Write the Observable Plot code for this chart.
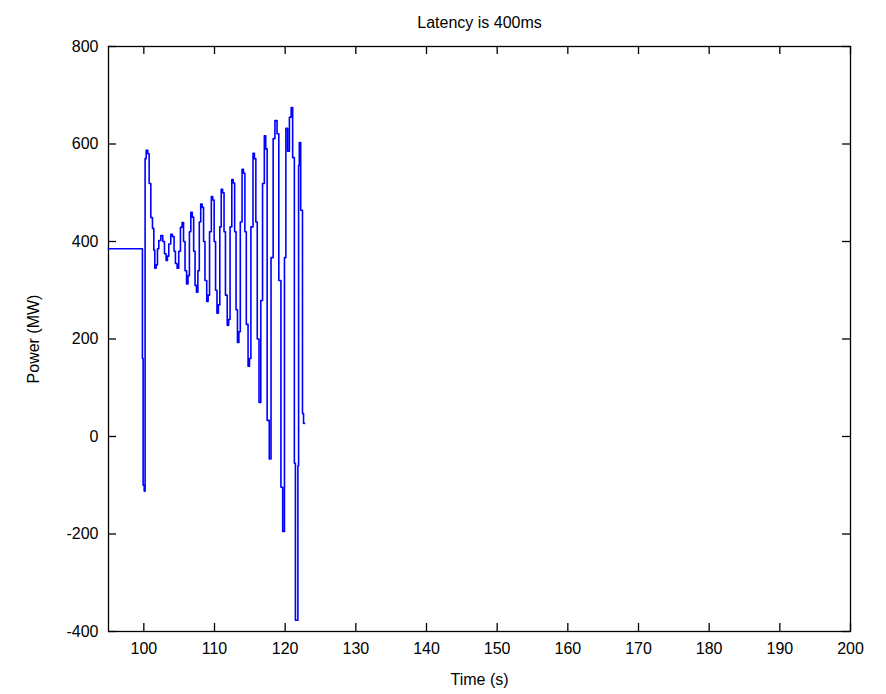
<!DOCTYPE html>
<html>
<head>
<meta charset="utf-8">
<script src="https://cdn.jsdelivr.net/npm/d3@7"></script>
<script src="https://cdn.jsdelivr.net/npm/@observablehq/plot@0.6"></script>
<style>
  html, body { margin: 0; padding: 0; background: #fff; }
  #chart svg { display: block; }
</style>
</head>
<body>
<div id="chart"></div>
<script>
// Time (s) of each held sample
const time = [
  95, 99.8, 99.9, 100.05, 100.18, 100.33, 100.56, 100.75, 100.99, 101.22, 101.41, 101.55,
  101.74, 101.93, 102.12, 102.4, 102.68, 102.92, 103.15, 103.34, 103.53, 103.81, 104.05,
  104.28, 104.47, 104.71, 104.94, 105.18, 105.41, 105.62, 105.83, 106.05, 106.25, 106.45,
  106.65, 106.85, 107.05, 107.25, 107.45, 107.65, 107.85, 108.05, 108.25, 108.45, 108.65,
  108.9, 109.1, 109.3, 109.55, 109.75, 109.95, 110.15, 110.35, 110.55, 110.75, 110.95,
  111.15, 111.35, 111.55, 111.8, 112.0, 112.2, 112.45, 112.65, 112.85, 113.05, 113.25,
  113.45, 113.65, 113.9, 114.1, 114.3, 114.5, 114.75, 114.95, 115.15, 115.45, 115.65,
  115.85, 116.05, 116.3, 116.55, 116.8, 117.05, 117.25, 117.45, 117.75, 118.0, 118.3,
  118.55, 118.85, 119.1, 119.4, 119.65, 119.9, 120.1, 120.35, 120.6, 120.85, 121.06,
  121.3, 121.45, 121.8, 121.9, 122.0, 122.2, 122.45, 122.6, 122.75
];
// Power (MW) held from each sample time
const power = [
  385, 160, -100, -112, 570, 587, 580, 519, 449, 427, 382, 345,
  352, 385, 402, 412, 400, 375, 361, 370, 395, 415, 410,
  380, 355, 345, 380, 429, 439, 400, 340, 313, 330, 420,
  460, 450, 380, 310, 296, 340, 440, 477, 470, 400, 320,
  277, 290, 420, 492, 485, 400, 300, 253, 270, 430, 507,
  500, 420, 290, 228, 240, 430, 527, 520, 420, 260, 193,
  215, 440, 548, 540, 420, 230, 144, 160, 430, 581, 570,
  440, 200, 70, 279, 519, 617, 590, 33, -46, 367, 611,
  648, 621, 320, -104, -195, 367, 632, 585, 655, 675, 572,
  -55, -377, -60, 556, 603, 464, 47, 27, 27
];
const xTicks = [100, 110, 120, 130, 140, 150, 160, 170, 180, 190, 200];
const yTicks = [-400, -200, 0, 200, 400, 600, 800];
const titleText = "Latency is 400ms";
const xLabel = "Time (s)";
const yLabel = "Power (MW)";

const data = time.map((t, i) => ({t, p: power[i]}));
const font = "Liberation Sans, Arial, Helvetica, sans-serif";

const W = 886, H = 694, mL = 108, mR = 36, mT = 46, mB = 63, tick = 8;
const frameW = W - mL - mR, frameH = H - mT - mB;
const tickStyle = {stroke: "#000", strokeWidth: 1.3};

const chart = Plot.plot({
  width: W,
  height: H,
  marginLeft: mL,
  marginRight: mR,
  marginTop: mT,
  marginBottom: mB,
  style: {fontFamily: font, fontSize: "16px", color: "#000", background: "#fff"},
  x: {domain: [95, 200]},
  y: {domain: [-400, 800]},
  marks: [
    // inward ticks on all four sides
    Plot.ruleX(xTicks, {insetTop: frameH - tick, ...tickStyle}),
    Plot.ruleX(xTicks, {insetBottom: frameH - tick, ...tickStyle}),
    Plot.ruleY(yTicks, {insetRight: frameW - tick, ...tickStyle}),
    Plot.ruleY(yTicks, {insetLeft: frameW - tick, ...tickStyle}),
    Plot.frame({stroke: "#000", strokeWidth: 1.3}),
    Plot.axisX(xTicks, {anchor: "bottom", tickSize: 0, tickPadding: 11, tickFormat: d => String(d),
      label: xLabel, labelAnchor: "center", labelArrow: "none", labelOffset: 53, fontSize: 16}),
    Plot.axisY(yTicks, {anchor: "left", tickSize: 0, tickPadding: 10, tickFormat: d => String(d),
      label: yLabel, labelAnchor: "center", labelArrow: "none", labelOffset: 81, fontSize: 16}),
    Plot.line(data, {x: "t", y: "p", curve: "step-after", stroke: "#0000ff", strokeWidth: 1.6}),
    Plot.text([titleText], {frameAnchor: "top", dy: -30, fontSize: 16, fill: "#000"})
  ]
});
document.getElementById("chart").appendChild(chart);
</script>
</body>
</html>
